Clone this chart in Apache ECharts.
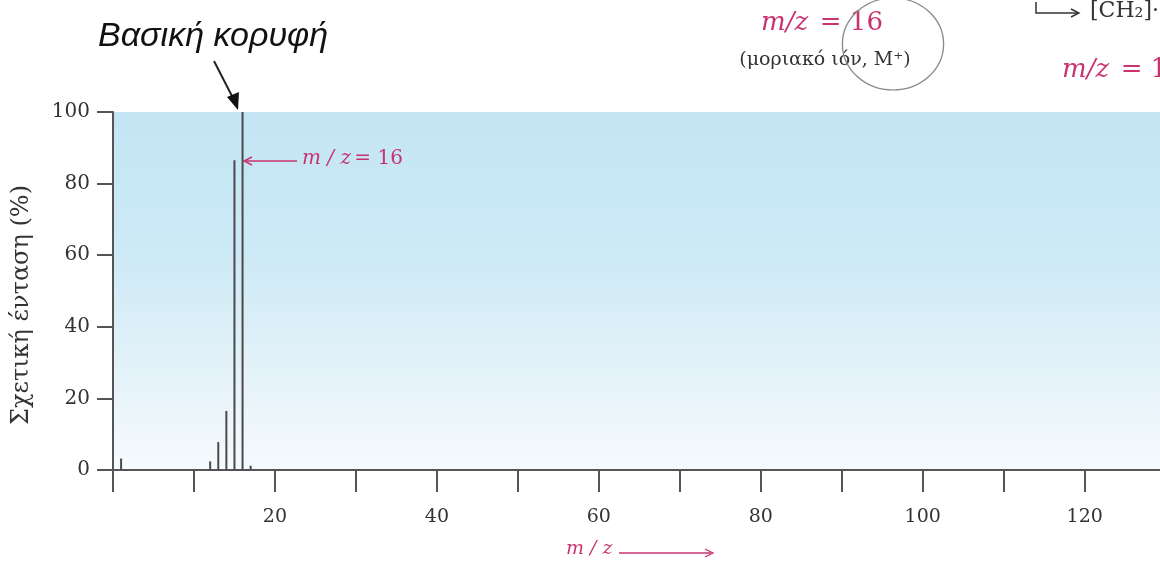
<!DOCTYPE html>
<html>
<head>
<meta charset="utf-8">
<script src="https://cdn.jsdelivr.net/npm/echarts@6/dist/echarts.min.js"></script>
<style>
html,body{margin:0;padding:0;background:#fff;}
#c{width:1160px;height:566px;}
</style>
</head>
<body>
<div id="c"></div>
<script>
// Mass spectrum of methane (m/z vs relative intensity %)
const mzValues = [1, 12, 13, 14, 15, 16, 17];
const intensities = [3.2, 2.4, 7.8, 16.5, 86.5, 100, 1.2];
const yTickLabels = [0, 20, 40, 60, 80, 100];
const xTickLabels = [20, 40, 60, 80, 100, 120];

const seriesData = mzValues.map((m, i) => [m, intensities[i]]);
const MAG = '#c9336f';
const SERIF = "'DejaVu Serif', 'Liberation Serif', serif";

const chart = echarts.init(document.getElementById('c'), null, {renderer: 'canvas'});

const option = {
  animation: false,
  backgroundColor: '#ffffff',
  grid: {
    left: 113, right: 0, top: 112, bottom: 96,
    outerBoundsMode: 'none',
    show: true,
    borderWidth: 0,
    backgroundColor: new echarts.graphic.LinearGradient(0, 0, 0, 1, [
      {offset: 0, color: '#c3e5f4'},
      {offset: 0.4, color: '#cdeaf6'},
      {offset: 0.65, color: '#dff0f8'},
      {offset: 0.85, color: '#ecf6fb'},
      {offset: 1, color: '#f5fafd'}
    ])
  },
  xAxis: {
    type: 'value', min: 0, max: 129.3, interval: 10,
    axisLine: {show: true, lineStyle: {color: '#555', width: 2}},
    axisTick: {show: true, inside: false, length: 22, lineStyle: {color: '#555', width: 2}},
    splitLine: {show: false},
    axisLabel: {
      margin: 38, color: '#333', fontFamily: SERIF, fontSize: 19,
      showMaxLabel: false,
      formatter: v => xTickLabels.indexOf(v) >= 0 ? String(v) : ''
    }
  },
  yAxis: {
    type: 'value', min: 0, max: 100, interval: 20,
    axisLine: {show: true, lineStyle: {color: '#555', width: 2}},
    axisTick: {show: true, inside: false, length: 16, lineStyle: {color: '#555', width: 2}},
    splitLine: {
      show: true, showMinLine: false,
      lineStyle: {color: ['transparent', 'transparent', 'transparent', 'transparent', 'transparent', '#555'], width: 2}
    },
    axisLabel: {
      margin: 23, color: '#333', fontFamily: SERIF, fontSize: 20,
      formatter: v => yTickLabels.indexOf(v) >= 0 ? String(v) : ''
    }
  },
  series: [{
    type: 'bar',
    data: seriesData,
    barWidth: 2,
    itemStyle: {color: '#4a4a4a'},
    silent: true
  }]
};
chart.setOption(option);

const graphics = [
  // Title
  {type: 'text', left: 98, top: 20, style: {
    text: 'Βασική κορυφή', fill: '#111',
    font: "italic 34px 'Liberation Sans', 'Open Sans', sans-serif"
  }},
  // black arrow to base peak
  {type: 'line', shape: {x1: 214, y1: 61, x2: 234, y2: 100}, style: {stroke: '#222', lineWidth: 2}},
  {type: 'polygon', shape: {points: [[238, 110], [227, 97], [239, 92]]}, style: {fill: '#111'}},
  // magenta arrow + label inside plot
  {type: 'line', shape: {x1: 246, y1: 161, x2: 297, y2: 161}, style: {stroke: MAG, lineWidth: 1.6}},
  {type: 'polyline', shape: {points: [[252, 157], [244, 161], [252, 165]]}, style: {stroke: MAG, lineWidth: 1.4, fill: null}},
  {type: 'text', left: 302, top: 149, style: {
    text: '{i|m / z} {n|= 16}',
    rich: {
      i: {fontFamily: SERIF, fontStyle: 'italic', fontSize: 20, fill: MAG},
      n: {fontFamily: SERIF, fontSize: 20, fill: MAG}
    }
  }},
  // y axis name
  {type: 'text', x: 22, y: 305, rotation: Math.PI / 2, style: {
    text: 'Σχετική ένταση (%)', fill: '#333',
    font: "24px " + SERIF, align: 'center', verticalAlign: 'middle'
  }},
  // x axis name
  {type: 'text', left: 566, top: 540, style: {
    text: 'm / z', fill: MAG,
    font: "italic 19px " + SERIF
  }},
  {type: 'line', shape: {x1: 619, y1: 553, x2: 711, y2: 553}, style: {stroke: MAG, lineWidth: 1.4}},
  {type: 'polyline', shape: {points: [[705, 549], [713, 553], [705, 557]]}, style: {stroke: MAG, lineWidth: 1.3, fill: null}},
  // top right texts (cropped neighbouring figure)
  {type: 'text', x: 822, y: 23, style: {
    text: '{i|m/z} {n| = 16}', align: 'center', verticalAlign: 'middle',
    rich: {
      i: {fontFamily: SERIF, fontStyle: 'italic', fontSize: 26, fill: MAG},
      n: {fontFamily: SERIF, fontSize: 26, fill: MAG}
    }
  }},
  {type: 'text', x: 825, y: 60, style: {
    text: '(μοριακό ιόν, M⁺)', fill: '#333', align: 'center', verticalAlign: 'middle',
    font: "19px " + SERIF
  }},
  {type: 'circle', shape: {cx: 0, cy: 0, r: 46}, x: 893, y: 44, scaleX: 1.1, scaleY: 1,
    style: {stroke: '#8a8a8a', lineWidth: 1.2, fill: null}},
  {type: 'polyline', shape: {points: [[1036, 2], [1036, 13], [1078, 13]]}, style: {stroke: '#333', lineWidth: 1.5, fill: null}},
  {type: 'polyline', shape: {points: [[1071, 9], [1079, 13], [1071, 17]]}, style: {stroke: '#333', lineWidth: 1.4, fill: null}},
  {type: 'text', left: 1090, top: 0, style: {
    text: '[CH₂]·', fill: '#333', font: "22px " + SERIF
  }},
  {type: 'text', left: 1062, top: 57, style: {
    text: '{i|m/z} {n| = 1}',
    rich: {
      i: {fontFamily: SERIF, fontStyle: 'italic', fontSize: 26, fill: MAG},
      n: {fontFamily: SERIF, fontSize: 26, fill: MAG}
    }
  }}
];
chart.setOption({graphic: graphics});
</script>
</body>
</html>
